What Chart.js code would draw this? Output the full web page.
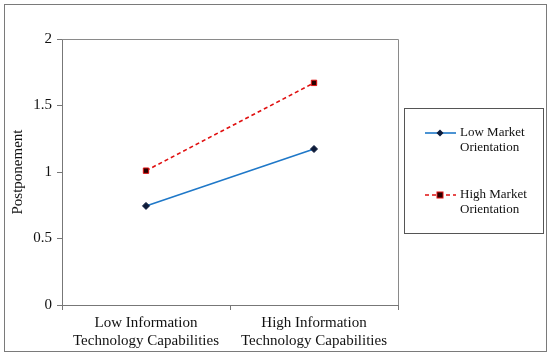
<!DOCTYPE html>
<html>
<head>
<meta charset="utf-8">
<script src="https://cdn.jsdelivr.net/npm/chart.js@4"></script>
<style>
body{margin:0;background:#fff}
#wrap{position:absolute;left:0;top:0;width:550px;height:355px}
#frame{position:absolute;left:4px;top:4px;width:541px;height:346px;border:1px solid #7a7a7a;pointer-events:none}
</style>
</head>
<body>
<div id="wrap">
<canvas id="myChart" width="550" height="355"></canvas>
<div id="frame"></div>
</div>
<script>
// datos
const categorias = [["Low Information", "Technology Capabilities"], ["High Information", "Technology Capabilities"]]
const low_market = [0.745, 1.173]
const high_market = [1.01, 1.67]
const nombres = [["Low Market", "Orientation"], ["High Market", "Orientation"]]
const ticks_y = [0, 0.5, 1, 1.5, 2]

const fuente = "'Liberation Serif', 'Times New Roman', serif"

// marco del area del grafico + leyenda dibujada a mano
const marco = {
  id: "marco",
  afterDraw(chart) {
    const ctx = chart.ctx
    const a = chart.chartArea
    ctx.save()
    ctx.strokeStyle = "#8a8a8a"
    ctx.lineWidth = 1
    ctx.beginPath()
    ctx.moveTo(a.left, a.top + 0.5)
    ctx.lineTo(a.right + 0.5, a.top + 0.5)
    ctx.lineTo(a.right + 0.5, a.bottom)
    ctx.stroke()

    // leyenda
    ctx.strokeStyle = "#555"
    ctx.strokeRect(404.5, 108.5, 139, 125)
    const ys = [133, 195]
    chart.data.datasets.forEach((ds, i) => {
      const y = ys[i]
      ctx.beginPath()
      ctx.strokeStyle = ds.borderColor
      ctx.lineWidth = ds.borderWidth
      ctx.setLineDash(ds.borderDash || [])
      ctx.moveTo(425, y)
      ctx.lineTo(456, y)
      ctx.stroke()
      ctx.setLineDash([])
      ctx.fillStyle = ds.pointBackgroundColor
      ctx.strokeStyle = ds.pointBorderColor
      ctx.lineWidth = 1
      if (ds.pointStyle == "rectRot") {
        ctx.beginPath()
        ctx.moveTo(440, y - 3.5)
        ctx.lineTo(443.5, y)
        ctx.lineTo(440, y + 3.5)
        ctx.lineTo(436.5, y)
        ctx.closePath()
        ctx.fill()
      } else {
        ctx.fillRect(437, y - 3, 6, 6)
        ctx.strokeRect(437, y - 3, 6, 6)
      }
      ctx.fillStyle = "#111"
      ctx.font = "13px " + fuente
      ctx.textBaseline = "middle"
      nombres[i].forEach((t, j) => ctx.fillText(t, 460, y + j * 15))
    })
    ctx.restore()
  }
}

const myChart = document.getElementById("myChart")
const chart = new Chart(myChart, {
  type: "line",
  data: {
    labels: categorias,
    datasets: [
      {
        label: "Low Market Orientation",
        data: low_market,
        borderColor: "#1f78c8",
        borderWidth: 1.6,
        pointStyle: "rectRot",
        pointRadius: 3.5,
        pointBackgroundColor: "#0d1b3a",
        pointBorderColor: "#0d1b3a",
        pointBorderWidth: 1,
        tension: 0
      },
      {
        label: "High Market Orientation",
        data: high_market,
        borderColor: "#e01010",
        borderWidth: 1.6,
        borderDash: [4, 3],
        pointStyle: "rect",
        pointRadius: 3.8,
        pointBackgroundColor: "#2a0000",
        pointBorderColor: "#e01010",
        pointBorderWidth: 1,
        tension: 0
      }
    ]
  },
  options: {
    responsive: false,
    animation: false,
    events: [],
    layout: { padding: { left: 5, top: 39, right: 152, bottom: 4 } },
    plugins: { legend: { display: false }, tooltip: { enabled: false } },
    scales: {
      x: {
        offset: true,
        grid: { drawOnChartArea: false, offset: true, tickLength: 5, color: "#777" },
        border: { color: "#777" },
        ticks: { color: "#111", font: { family: fuente, size: 15 }, padding: 4, maxRotation: 0 },
        afterFit(s) { s.height = 46 }
      },
      y: {
        min: 0,
        max: 2,
        afterBuildTicks(s) { s.ticks = ticks_y.map(v => ({ value: v })) },
        grid: { drawOnChartArea: false, tickLength: 5, color: "#777" },
        border: { color: "#777" },
        ticks: { color: "#111", font: { family: fuente, size: 15 }, padding: 5, callback: v => String(v) },
        title: { display: true, text: "Postponement", color: "#111", font: { family: fuente, size: 15 }, padding: { top: 4, bottom: 0 } },
        afterFit(s) { s.width = 57 }
      }
    }
  },
  plugins: [marco]
})
</script>
</body>
</html>
